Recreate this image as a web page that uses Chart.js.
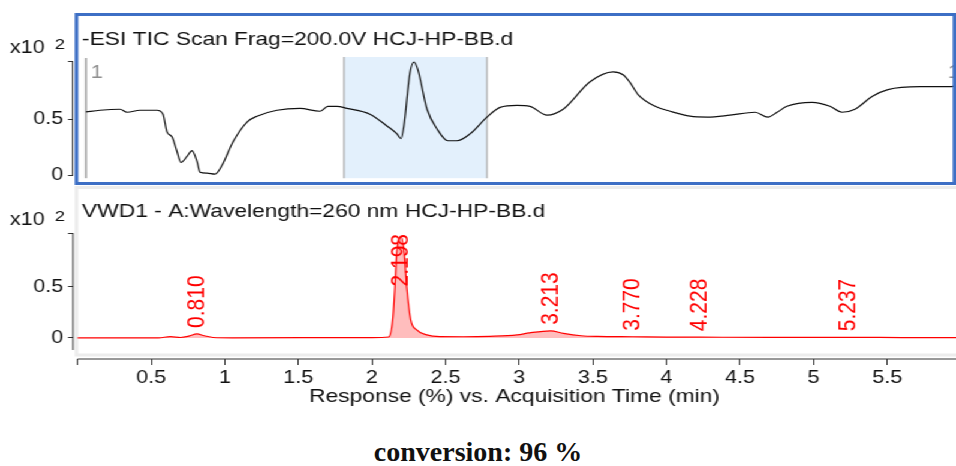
<!DOCTYPE html>
<html>
<head>
<meta charset="utf-8">
<script src="https://cdn.jsdelivr.net/npm/chart.js@4.4.1/dist/chart.umd.min.js"></script>
<style>
    html, body { margin: 0; padding: 0; background: #fff; }
    body { width: 956px; height: 466px; position: relative; overflow: hidden; }
    /* the original picture is stretched sideways, so the charts are drawn narrow and scaled */
    #stretch { position: absolute; left: 0; top: 0; width: 797px; height: 420px; transform: scaleX(1.1995); transform-origin: 0 0; }
    #ticChart { position: absolute; left: 0; top: 0; }
    #vwdChart { position: absolute; left: 0; top: 185px; }
    #note { position: absolute; left: 0; top: 438px; width: 956px; text-align: center; color: #111;
            font: bold 28px "Liberation Serif", "Times New Roman", serif; line-height: 28px; }
</style>
</head>
<body>
<div id="stretch">
    <canvas id="ticChart" width="797" height="190"></canvas>
    <canvas id="vwdChart" width="797" height="235"></canvas>
</div>
<div id="note">conversion: 96 %</div>
<script>
// ===============================
// TIC + VWD chromatogram
// ===============================

// ---------- Data ----------

const ticTimes = [0.057, 0.152, 0.288, 0.336, 0.424, 0.539, 0.580, 0.607, 0.641, 0.675, 0.702, 0.743,
    0.777, 0.811, 0.832, 0.879, 0.933, 0.981, 1.056, 1.151, 1.219, 1.355, 1.511, 1.647, 1.701, 1.762,
    1.830, 1.986, 2.102, 2.170, 2.197, 2.217, 2.258, 2.285, 2.312, 2.374, 2.442, 2.516, 2.577, 2.666,
    2.781, 2.870, 2.985, 3.073, 3.189, 3.298, 3.481, 3.637, 3.705, 3.753, 3.807, 3.923, 4.025, 4.160,
    4.276, 4.432, 4.602, 4.690, 4.752, 4.819, 4.989, 5.111, 5.193, 5.281, 5.397, 5.505, 5.723, 5.927, 5.967];

const ticValues = [0.564, 0.579, 0.588, 0.561, 0.579, 0.579, 0.544, 0.386, 0.342, 0.211, 0.114, 0.167,
    0.219, 0.123, 0.026, 0.018, 0.009, 0.088, 0.298, 0.474, 0.526, 0.579, 0.596, 0.570, 0.614, 0.614,
    0.596, 0.544, 0.439, 0.368, 0.325, 0.439, 0.912, 1.009, 0.939, 0.588, 0.412, 0.307, 0.307, 0.368,
    0.518, 0.605, 0.623, 0.614, 0.535, 0.588, 0.833, 0.921, 0.895, 0.825, 0.719, 0.614, 0.570, 0.526,
    0.518, 0.535, 0.561, 0.518, 0.561, 0.614, 0.649, 0.614, 0.561, 0.588, 0.702, 0.763, 0.789, 0.789, 0.798];

const vwdTimes = [0, 0.55, 0.63, 0.70, 0.76, 0.81, 0.86, 0.92, 1.05, 2.00, 2.113, 2.141, 2.156, 2.168,
    2.198, 2.219, 2.236, 2.263, 2.304, 2.372, 2.462, 2.62, 2.80, 2.986, 3.07, 3.213, 3.30, 3.42, 3.53,
    3.77, 4.00, 4.228, 4.70, 5.237, 5.60, 5.967];

const vwdValues = [0.001, 0.002, 0.013, 0.005, 0.02, 0.04, 0.022, 0.005, 0.002, 0.004, 0.01, 0.18, 0.50, 0.83,
    0.99, 0.83, 0.50, 0.18, 0.08, 0.03, 0.013, 0.012, 0.016, 0.03, 0.05, 0.07, 0.045, 0.022, 0.015,
    0.012, 0.009, 0.008, 0.006, 0.007, 0.004, 0.003];

const peakTimes = [0.810, 2.198, 3.213, 3.770, 4.228, 5.237];

const xTickValues = [0, 0.5, 1, 1.5, 2, 2.5, 3, 3.5, 4, 4.5, 5, 5.5];
const xTickLabels = ["", "0.5", "1", "1.5", "2", "2.5", "3", "3.5", "4", "4.5", "5", "5.5"];
const yTickValues = [0, 0.5];
const yTickLabels = ["0", "0.5"];

const selectedRange = [1.81, 2.781];
const markerTimes = [0.057, 6.01];

const ticTitle = "-ESI TIC Scan Frag=200.0V HCJ-HP-BB.d";
const vwdTitle = "VWD1 - A:Wavelength=260 nm HCJ-HP-BB.d";
const xAxisTitle = "Response (%) vs. Acquisition Time (min)";

// ---------- Layout ----------

const STRETCH = 956 / 797;
const AXIS_X = 73 / STRETCH;
const X_MIN = -0.031;
const X_MAX = 5.967;
const FONT = "'Liberation Sans', Arial, sans-serif";

Chart.defaults.font.family = FONT;
Chart.defaults.color = "#111";

function drawHeader(ctx, titleBase, unitBase, title) {
    ctx.save();
    ctx.fillStyle = "#111";
    ctx.textAlign = "left";
    ctx.textBaseline = "alphabetic";
    ctx.font = "18px " + FONT;
    ctx.fillText("x10", 10 / STRETCH, unitBase);
    ctx.font = "15px " + FONT;
    ctx.fillText("2", 55 / STRETCH, unitBase - 4);
    ctx.font = "19px " + FONT;
    ctx.fillText(title, 82 / STRETCH, titleBase);
    ctx.restore();
}

function yAxis(min, max) {
    return {
        min: min,
        max: max,
        afterFit: s => { s.width = AXIS_X; },
        afterBuildTicks: s => { s.ticks = yTickValues.concat([s.max]).map(v => ({ value: v })); },
        grid: { drawOnChartArea: false, tickLength: 5 / STRETCH, color: "#333" },
        ticks: { padding: 4, font: { size: 18 }, callback: (v, i) => yTickLabels[i] ?? "" }
    };
}

// ---------- TIC (top) ----------

const ticDecor = {
    id: "ticDecor",
    beforeDatasetsDraw(chart) {
        const { ctx, chartArea, scales: { x } } = chart;
        const top = chartArea.top - 4;
        const bottom = chartArea.bottom + 3;
        const x0 = x.getPixelForValue(selectedRange[0]);
        const x1 = x.getPixelForValue(selectedRange[1]);

        ctx.save();
        ctx.fillStyle = "#e3f0fc";
        ctx.fillRect(x0, top, x1 - x0, bottom - top);
        ctx.strokeStyle = "#a9a9a9";
        ctx.lineWidth = 1.2;
        [x0, x1].forEach(px => {
            ctx.beginPath();
            ctx.moveTo(px, top);
            ctx.lineTo(px, bottom);
            ctx.stroke();
        });

        ctx.strokeStyle = "#a3a3a3";
        ctx.lineWidth = 1.7;
        ctx.fillStyle = "#8e8e8e";
        ctx.font = "18px " + FONT;
        markerTimes.forEach((t, i) => {
            const px = x.getPixelForValue(t);
            ctx.beginPath();
            ctx.moveTo(px, chartArea.top - 3);
            ctx.lineTo(px, chartArea.bottom + 3);
            ctx.stroke();
            ctx.textAlign = i === 0 ? "left" : "right";
            ctx.fillText("1", i === 0 ? px + 4 : px - 2, chartArea.top + 17);
        });
        ctx.restore();
    },
    afterDraw(chart) {
        const ctx = chart.ctx;
        ctx.save();
        ctx.strokeStyle = "#3d6fc5";
        ctx.lineWidth = 3;
        ctx.strokeRect(76.5 / STRETCH, 14.5, (954.5 - 76.5) / STRETCH, 169);
        ctx.restore();
        drawHeader(ctx, 45, 53, ticTitle);
    }
};

new Chart(document.getElementById("ticChart"), {
    type: "line",
    data: {
        datasets: [{
            data: ticTimes.map((t, i) => ({ x: t, y: ticValues[i] })),
            borderColor: "#111",
            borderWidth: 1.2,
            pointRadius: 0,
            cubicInterpolationMode: "monotone"
        }]
    },
    options: {
        responsive: false,
        animation: false,
        devicePixelRatio: 1,
        layout: { padding: { top: 61, bottom: 13, left: 0, right: 0 } },
        plugins: { legend: { display: false }, tooltip: { enabled: false } },
        scales: {
            x: { type: "linear", min: X_MIN, max: X_MAX, display: false },
            y: Object.assign(yAxis(0, 1.018), { border: { display: true, color: "#333", width: 1 } })
        }
    },
    plugins: [ticDecor]
});

// ---------- VWD (bottom) ----------

const vwdDecor = {
    id: "vwdDecor",
    beforeDraw(chart) {
        const ctx = chart.ctx;
        const left = 76.5 / STRETCH;
        const right = chart.width + 5;
        ctx.save();
        ctx.strokeStyle = "#ececec";
        ctx.lineWidth = 3;
        ctx.beginPath();
        ctx.moveTo(right, 2.5);
        ctx.lineTo(left, 2.5);
        ctx.lineTo(left, 170);
        ctx.lineTo(right, 170);
        ctx.stroke();
        ctx.restore();
    },
    afterDraw(chart) {
        const { ctx, chartArea, scales: { x, y } } = chart;

        ctx.save();
        ctx.strokeStyle = "#333";
        ctx.lineWidth = 1;
        ctx.beginPath();
        ctx.moveTo(chartArea.left, chartArea.top);
        ctx.lineTo(chartArea.left, chartArea.bottom - 9);
        ctx.moveTo(x.getPixelForValue(0), chartArea.bottom);
        ctx.lineTo(chartArea.right, chartArea.bottom);
        ctx.stroke();

        // retention time labels, kept inside the plot at the top
        ctx.fillStyle = "#ff0000";
        ctx.font = "21px " + FONT;
        ctx.textAlign = "left";
        ctx.textBaseline = "middle";
        peakTimes.forEach(t => {
            const label = t.toFixed(3);
            const px = x.getPixelForValue(t);
            const py = y.getPixelForValue(vwdValues[vwdTimes.indexOf(t)]);
            const w = ctx.measureText(label).width;
            const base = Math.max(py - 6, chartArea.top + 1 + w);
            ctx.save();
            ctx.translate(px, base);
            ctx.rotate(-Math.PI / 2);
            ctx.fillText(label, 0, 0);
            ctx.restore();
        });
        ctx.restore();

        drawHeader(ctx, 32, 40, vwdTitle);
    }
};

new Chart(document.getElementById("vwdChart"), {
    type: "line",
    data: {
        datasets: [{
            data: vwdTimes.map((t, i) => ({ x: t, y: vwdValues[i] })),
            borderColor: "#ff0000",
            backgroundColor: "rgba(255,0,0,0.26)",
            borderWidth: 1.2,
            fill: "origin",
            pointRadius: 0,
            cubicInterpolationMode: "monotone"
        }]
    },
    options: {
        responsive: false,
        animation: false,
        devicePixelRatio: 1,
        layout: { padding: { top: 48, bottom: 0, left: 0, right: 0 } },
        plugins: { legend: { display: false }, tooltip: { enabled: false } },
        scales: {
            x: {
                type: "linear",
                min: X_MIN,
                max: X_MAX,
                afterFit: s => { s.height = 61; },
                afterBuildTicks: s => { s.ticks = xTickValues.map(v => ({ value: v })); },
                border: { display: false },
                grid: { drawOnChartArea: false, tickLength: 6, color: "#333" },
                ticks: { padding: 2, font: { size: 18 }, maxRotation: 0, autoSkip: false,
                         callback: (v, i) => xTickLabels[i] },
                title: { display: true, text: xAxisTitle, font: { size: 19 }, padding: { top: 0, bottom: 11.6 } }
            },
            y: Object.assign(yAxis(-0.2059, 1.029), { border: { display: false } })
        }
    },
    plugins: [vwdDecor]
});
</script>
</body>
</html>
